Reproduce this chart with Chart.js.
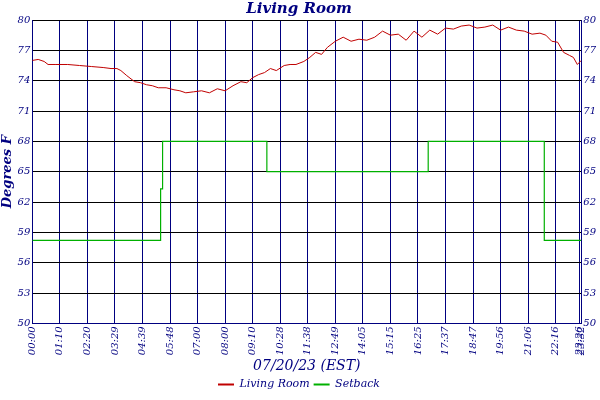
<!DOCTYPE html>
<html>
<head>
<script src="https://cdn.jsdelivr.net/npm/chart.js@4"></script>
<style>body{margin:0;background:#fff}#wrap{width:600px;height:400px}</style>
</head>
<body>
<div id="wrap"><canvas id="c"></canvas></div>
<script>
// minutes since midnight (axis is sample based, so units are approximate)
const roomX = [0,15,30,40,60,90,120,150,180,200,215,225,240,260,275,290,305,320,340,360,375,390,410,430,450,470,490,510,530,545,560,575,590,605,620,640,655,670,690,705,720,735,750,770,790,810,830,850,870,890,910,930,950,970,990,1010,1030,1050,1070,1090,1110,1130,1150,1170,1190,1210,1230,1250,1270,1290,1305,1320,1335,1350,1365,1375,1385,1395];
const roomY = [76.0,76.1,75.9,75.6,75.6,75.6,75.5,75.4,75.3,75.2,75.2,75.0,74.5,73.9,73.8,73.6,73.5,73.3,73.3,73.1,73.0,72.8,72.9,73.0,72.8,73.2,73.0,73.5,73.9,73.8,74.3,74.6,74.8,75.2,75.0,75.5,75.6,75.6,75.9,76.3,76.8,76.6,77.3,77.9,78.3,77.9,78.1,78.0,78.3,78.9,78.5,78.6,78.0,78.9,78.3,79.0,78.6,79.2,79.1,79.4,79.5,79.2,79.3,79.5,79.0,79.3,79.0,78.9,78.6,78.7,78.5,77.9,77.8,76.8,76.5,76.3,75.6,76.0];
const setX = [0,326,326,331,331,596,596,1006,1006,1301,1301,1395];
const setY = [58.2,58.2,63.3,63.3,68,68,65,65,68,68,58.2,58.2];
const tickMin = [0,70,140,210,280,350,420,490,560,630,700,770,840,910,980,1050,1120,1190,1260,1330,1390,1395];
const tickLbl = ['00:00','01:10','02:20','03:29','04:39','05:48','07:00','08:00','09:10','10:28','11:38','12:49','14:05','15:15','16:25','17:37','18:47','19:56','21:06','22:16','23:26','23:32'];
const yTicks = [50,53,56,59,62,65,68,71,74,77,80];

const navy = '#000080';
const font = {family: '"DejaVu Serif", serif', style: 'italic', size: 10};
const pts = (xs, ys) => xs.map((x, i) => ({x: x, y: ys[i]}));
const yAxis = (pos) => ({
  type: 'linear', position: pos, min: 50, max: 80,
  afterBuildTicks: a => { a.ticks = yTicks.map(v => ({value: v})); },
  ticks: {color: navy, font: font, padding: 2},
  grid: {color: pos === 'left' ? '#000' : 'transparent', drawTicks: false},
  border: {color: navy}
});

new Chart(document.getElementById('c'), {
  type: 'line',
  data: {
    datasets: [
      {label: 'Living Room', data: pts(roomX, roomY), borderColor: '#c00000', backgroundColor: '#c00000', borderWidth: 1, pointRadius: 0, tension: 0},
      {label: 'Setback', data: pts(setX, setY), borderColor: '#00b000', backgroundColor: '#00b000', borderWidth: 1.2, pointRadius: 0, tension: 0}
    ]
  },
  options: {
    responsive: true, maintainAspectRatio: false, animation: false,
    layout: {padding: {left: 0, right: 2, top: 0, bottom: 0}},
    plugins: {
      title: {display: true, text: 'Living Room', color: navy, font: {family: '"DejaVu Serif", serif', style: 'italic', weight: 'bold', size: 15}, padding: {top: 0, bottom: 2}},
      legend: {position: 'bottom', labels: {color: navy, font: {family: '"DejaVu Serif", serif', style: 'italic', size: 11}, boxWidth: 16, boxHeight: 2, padding: 4,
        generateLabels: ch => ch.data.datasets.map((d, i) => ({text: d.label, fillStyle: d.borderColor, strokeStyle: d.borderColor, lineWidth: 0, fontColor: navy, datasetIndex: i}))}},
      tooltip: {enabled: false}
    },
    scales: {
      x: {
        type: 'linear', min: 0, max: 1395,
        afterBuildTicks: a => { a.ticks = tickMin.map(v => ({value: v})); },
        ticks: {color: navy, font: font, maxRotation: 90, minRotation: 90, autoSkip: false,
          callback: (v) => tickLbl[tickMin.indexOf(v)]},
        grid: {color: navy, drawTicks: false},
        border: {color: navy},
        title: {display: true, text: '07/20/23 (EST)', color: navy, font: {family: '"DejaVu Serif", serif', style: 'italic', size: 14}, padding: 0}
      },
      y: Object.assign(yAxis('left'), {title: {display: true, text: 'Degrees F', color: navy, font: {family: '"DejaVu Serif", serif', style: 'italic', weight: 'bold', size: 13}, padding: 0}}),
      y2: yAxis('right')
    }
  }
});
</script>
</body>
</html>
